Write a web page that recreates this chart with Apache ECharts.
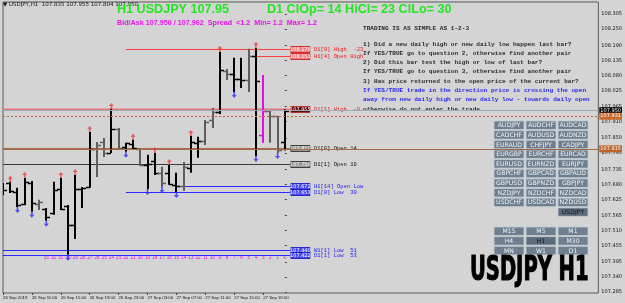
<!DOCTYPE html>
<html><head><meta charset="utf-8">
<script src="https://cdn.jsdelivr.net/npm/echarts@6/dist/echarts.min.js"></script>
<style>html,body{margin:0;padding:0;background:#d4d4d4}#c{width:625px;height:303px}</style>
</head><body><div id="c"></div>
<script>
// ---- data ----
const barShift = [39,38,37,36,35,34,33,32,31,30,29,28,27,26,25,24,23,22,21,20,19,18,17,16,15,14,13,12,11,10,9,8,7,6,5,4,3,2,1,0];
const opens  = [107.678,107.685,107.652,107.608,107.685,107.608,107.590,107.575,107.663,107.601,107.531,107.663,107.670,107.810,107.835,107.795,107.883,107.817,107.828,107.810,107.751,107.766,107.722,107.722,107.678,107.674,107.740,107.832,107.839,107.916,107.945,108.096,108.085,108.067,108.063,108.151,107.861,107.949,107.931,107.835];
const highs  = [107.685,107.689,107.667,107.703,107.692,107.623,107.593,107.689,107.703,107.604,107.714,107.670,107.872,107.835,107.850,107.956,107.887,107.832,107.843,107.813,107.788,107.795,107.744,107.751,107.722,107.762,107.857,107.854,107.916,107.960,108.166,108.103,108.144,108.144,108.177,108.180,108.081,107.953,107.931,107.955];
const lows   = [107.641,107.648,107.597,107.604,107.579,107.586,107.546,107.568,107.586,107.421,107.479,107.593,107.667,107.707,107.780,107.795,107.806,107.799,107.810,107.747,107.663,107.714,107.670,107.678,107.652,107.656,107.722,107.777,107.824,107.887,107.938,108.063,108.019,108.033,108.019,107.784,107.832,107.832,107.795,107.804];
const closes = [107.659,107.656,107.604,107.689,107.612,107.615,107.560,107.659,107.590,107.531,107.663,107.667,107.810,107.824,107.795,107.883,107.813,107.832,107.813,107.751,107.755,107.722,107.685,107.681,107.674,107.744,107.835,107.839,107.909,107.945,108.100,108.085,108.067,108.063,108.151,108.059,107.949,107.931,107.806,107.950];
const grayBars = [34,26,25,23,20,17,14,11,10,8,5,2,1];
const magentaBars = [3];
const upArrowBars = [38,36,31,29,27,24,21,18,16,13,9,4];
const downArrowBars = [37,35,33,30,22,19,17,15,7,4,1];
const numberedBars = [33,32,31,30,29,28,27,26,25,24,23,22,21,20,19,18,17,16,15,14,13,12,11,10,9,8,7,6,5,4,3,2,1,0];

const priceTicks = [108.305,108.250,108.190,108.135,108.080,108.025,107.965,107.910,107.850,107.795,107.735,107.680,107.625,107.565,107.510,107.455,107.395,107.340,107.285];
const timeTickShift = [39,35,31,27,23,19,15,11,7,3];
const timeTickLabels = ['26 Sep 2019','26 Sep 11:00','26 Sep 15:00','26 Sep 19:00','26 Sep 23:00','27 Sep 03:00','27 Sep 07:00','27 Sep 11:00','27 Sep 15:00','27 Sep 19:00'];

const levelNames  = ['D1[0] High  -23','H1[4] Open High','D1[1] High  -0','D1[0] Open 14','D1[1] Open 19','H1[14] Open Low','D1[0] Low  30','W1[1] Low  51','D1[1] Low  53'];
const levelPrices = [108.178,108.151,107.955,107.815,107.756,107.672,107.653,107.440,107.422];
const levelFrom   = [22,4,39,39,39,14,22,39,39];
const levelKind   = ['hi','hi','hi1','open','open1','lo','lo','lo','lo'];

const bidPrice = 107.950, askLinePrice = 107.931, dayOpenPrice = 107.815;

const titleMain = 'H1 USDJPY 107.95';
const titleD1 = 'D1 ClOp= 14 HiCl= 23 ClLo= 30';
const bidAskText = 'Bid/Ask 107.950 / 107.962  Spread  <1.2  Min= 1.2  Max= 1.2';
const infoText = 'USDJPY,H1  107.835 107.955 107.804 107.950';
const ruleLines = [
 'TRADING IS AS SIMPLE AS 1-2-3','',
 '1) Did a new daily high or new daily low happen last bar?',
 'If YES/TRUE go to question 2, otherwise find another pair',
 '2) Did this bar test the high or low of last bar?',
 'If YES/TRUE go to question 3, otherwise find another pair',
 '3) Has price returned to the open price of the current bar?',
 'If YES/TRUE trade in the direction price is crossing the open',
 'away from new daily high or new daily low - towards daily open',
 'otherwise do not enter the trade.'];
const ruleKinds = ['n','n','n','n','n','n','n','b','b','n'];
const pairRows = [['AUDJPY','AUDCHF','AUDCAD'],['CADCHF','AUDUSD','AUDNZD'],['EURAUD','CHFJPY','CADJPY'],['EURGBP','EURCHF','EURCAD'],['EURUSD','EURNZD','EURJPY'],['GBPCHF','GBPCAD','GBPAUD'],['GBPUSD','GBPNZD','GBPJPY'],['NZDJPY','NZDCHF','NZDCAD'],['USDCHF','USDCAD','NZDUSD'],[null,null,'USDJPY']];
const tfRows = [['M15','M5','M1'],['H4','H1','M30'],['MN','W1','D1']];
const activePair = 'USDJPY', activeTf = 'H1';
const bigLabel = 'USDJPY H1';

// ---- styles ----
const levelStyle = {
  hi:   {line:'#ff3c3c', w:1, boxBg:'#ee8080', boxBorder:'#d01010', boxText:'#fff', text:'#e81818'},
  hi1:  {line:'#e87878', w:2, boxBg:'#5a0c0c', boxBorder:'#c02020', boxText:'#fff', text:'#e81818'},
  open: {line:'#a86a48', w:1, boxBg:'#9a9a9a', boxBorder:'#222', boxText:'#fff', text:'#111'},
  open1:{line:'#3a3a3a', w:1, boxBg:'#9a9a9a', boxBorder:'#222', boxText:'#fff', text:'#111'},
  lo:   {line:'#2a2aff', w:1, boxBg:'#4848f0', boxBorder:'#1010c0', boxText:'#fff', text:'#2020f0'}
};
const SMALL = 'DejaVu Sans';

const chart = echarts.init(document.getElementById('c'), null, {renderer:'canvas'});

const barData = barShift.map((n,i)=>[-n, opens[i], highs[i], lows[i], closes[i], magentaBars.includes(n)?2:(grayBars.includes(n)?1:0)]);
const idxOf = n => barShift.indexOf(n);
const upData = upArrowBars.map(n=>[-n, highs[idxOf(n)]]);
const downData = downArrowBars.map(n=>[-n, lows[idxOf(n)]]);
const levelData = levelPrices.map((p,i)=>[-levelFrom[i], p, i]);

const arrowPath = 'path://M5,0 L10,5 L6.6,5 L6.6,10 L3.4,10 L3.4,5 L0,5 Z';

const graphics = [];
graphics.push({type:'text', x:3, y:2, style:{text:'▼ '+infoText, fontSize:5.5, fontFamily:SMALL, fill:'#111'}});
graphics.push({type:'text', x:117, y:3, style:{text:titleMain, fontSize:12.6, fontWeight:'bold', fontFamily:'Liberation Sans', fill:'#22e622'}});
graphics.push({type:'text', x:267, y:3, style:{text:titleD1, fontSize:12.6, fontWeight:'bold', fontFamily:'Liberation Sans', fill:'#22e622'}});
graphics.push({type:'text', x:117, y:20, style:{text:bidAskText, fontSize:7.2, fontWeight:'bold', fontFamily:'Liberation Sans', fill:'#ee10ee'}});
ruleLines.forEach((t,i)=>{
  if(!t) return;
  graphics.push({type:'text', x:363, y:(i===0?25:41)+(i===0?0:(i-2)*9.3), style:{text:t, fontSize:6.1, fontFamily:'Liberation Mono', fontWeight:'bold', fill: ruleKinds[i]==='b'?'#2828f0':'#2a2a2a'}});
});
const colX = [494,526,558];
function button(x,y,label,active){
  graphics.push({type:'rect', shape:{x:x,y:y,width:30,height:8.5}, style:{fill: active?'#5d6c7c':'#6f7f8f', stroke:'#c6ced6', lineWidth:0.8}});
  graphics.push({type:'text', x:x+15, y:y+4.6, style:{text:label, fontSize:6.2, fontFamily:SMALL, fill: active?'#111':'#eef2f6', align:'center', verticalAlign:'middle'}});
}
pairRows.forEach((row,r)=>row.forEach((p,c)=>{ if(p) button(colX[c], 121+r*9.65, p, p===activePair); }));
tfRows.forEach((row,r)=>row.forEach((p,c)=>button(colX[c], 227+r*9.65, p, p===activeTf)));
graphics.push({type:'text', x:470, y:255, scaleX:0.62, scaleY:0.95, style:{text:bigLabel, fontSize:35, fontWeight:'bold', fontFamily:'DejaVu Sans Condensed', fill:'#000', stroke:'#000', lineWidth:1.2}});

chart.setOption({
  animation:false,
  backgroundColor:'#d4d4d4',
  grid:{left:2, right:21, top:2, bottom:10, show:true, borderColor:'#5a5a5a', borderWidth:1, backgroundColor:'transparent'},
  xAxis:[{
    type:'value', min:-39, max:43.38, position:'bottom',
    axisLine:{show:false}, splitLine:{show:false},
    axisTick:{show:true, length:2, lineStyle:{color:'#444'}, customValues: timeTickShift.map(n=>-n)},
    axisLabel:{show:true, fontSize:4.3, fontFamily:'Liberation Sans', color:'#111', margin:2.5, align:'left', hideOverlap:false, showMinLabel:true, showMaxLabel:true,
      customValues: timeTickShift.map(n=>-n),
      formatter:v=>timeTickLabels[timeTickShift.indexOf(-Math.round(v))] || ''}
  },{
    type:'value', min:-39, max:43.38, position:'bottom', offset:-38,
    axisLine:{show:false}, splitLine:{show:false}, axisTick:{show:false},
    axisLabel:{show:true, fontSize:4.6, fontFamily:'Liberation Sans', color:'#ee10ee', margin:0, hideOverlap:false,
      customValues: numberedBars.map(n=>-n), formatter:v=>String(-Math.round(v))}
  }],
  yAxis:{
    type:'value', min:107.281, max:108.349, position:'right',
    axisLine:{show:false}, splitLine:{show:false},
    axisTick:{show:true, length:2, lineStyle:{color:'#444'}, customValues: priceTicks},
    axisLabel:{show:true, fontSize:5, fontFamily:SMALL, color:'#111', margin:3, hideOverlap:false, customValues: priceTicks, formatter:v=>v.toFixed(3)}
  },
  graphic: graphics,
  series:[
    { type:'line', data:[], xAxisIndex:0, silent:true,
      markLine:{silent:true, symbol:'none', animation:false,
        data:[
          {yAxis:bidPrice, lineStyle:{color:'#9eacba', width:1, type:'solid'}, label:{show:true, position:'end', distance:1, formatter:bidPrice.toFixed(3), backgroundColor:'#000', color:'#fff', fontSize:5, padding:[1,1], fontFamily:SMALL}},
          {yAxis:askLinePrice, lineStyle:{color:'#c0662e', width:1, type:[2,2]}, label:{show:true, position:'end', distance:1, formatter:askLinePrice.toFixed(3), backgroundColor:'#c66a2a', color:'#fff', fontSize:5, padding:[1,1], fontFamily:SMALL}},
          {yAxis:dayOpenPrice, lineStyle:{color:'#a86a48', width:1, type:'solid'}, label:{show:true, position:'end', distance:1, formatter:dayOpenPrice.toFixed(3), backgroundColor:'#c06428', color:'#fff', fontSize:5, padding:[1,1], fontFamily:SMALL}}
        ]}
    },
    { type:'custom', data: levelData, clip:false, z:3,
      renderItem:(params, api)=>{
        const i = api.value(2), st = levelStyle[levelKind[i]];
        const a = api.coord([api.value(0), api.value(1)]);
        const b = api.coord([0.7, api.value(1)]);
        const y = Math.round(a[1])+0.5;
        return {type:'group', children:[
          {type:'line', shape:{x1:a[0], y1:y, x2:b[0], y2:y}, style:{stroke:st.line, lineWidth:st.w}},
          {type:'rect', shape:{x:b[0]+1, y:y-3, width:19, height:6}, style:{fill:st.boxBg, stroke:st.boxBorder, lineWidth:0.8}},
          {type:'text', x:b[0]+10.5, y:y+0.3, style:{text:levelPrices[i].toFixed(3), fontSize:5, fontFamily:SMALL, fill:st.boxText, align:'center', verticalAlign:'middle'}},
          {type:'text', x:b[0]+24, y:y+0.5, style:{text:levelNames[i], fontSize:5.5, fontFamily:'Liberation Mono', fill:st.text, verticalAlign:'middle'}}
        ]};
      }
    },
    { type:'custom', data: barData, clip:true, z:4,
      renderItem:(params, api)=>{
        const x = api.value(0);
        const o = api.coord([x, api.value(1)]);
        const h = api.coord([x, api.value(2)]);
        const l = api.coord([x, api.value(3)]);
        const c = api.coord([x, api.value(4)]);
        const k = api.value(5);
        const col = k===2 ? '#e010e0' : (k===1 ? '#5e5e5e' : '#000');
        const px = Math.round(h[0]);
        return {type:'group', children:[
          {type:'line', shape:{x1:px, y1:h[1], x2:px, y2:l[1]}, style:{stroke:col, lineWidth:2}},
          {type:'line', shape:{x1:px-4, y1:Math.round(o[1])+0.5, x2:px, y2:Math.round(o[1])+0.5}, style:{stroke:col, lineWidth:1.5}},
          {type:'line', shape:{x1:px, y1:Math.round(c[1])+0.5, x2:px+4, y2:Math.round(c[1])+0.5}, style:{stroke:col, lineWidth:1.5}}
        ]};
      }
    },
    { type:'scatter', data: upData, symbol: arrowPath, symbolSize:[5,6], symbolOffset:[0,-3], itemStyle:{color:'#f03a3a'}, z:5, silent:true },
    { type:'scatter', data: downData, symbol: arrowPath, symbolRotate:180, symbolSize:[5,6], symbolOffset:[0,3], itemStyle:{color:'#2a2aff'}, z:5, silent:true }
  ]
});
</script></body></html>
